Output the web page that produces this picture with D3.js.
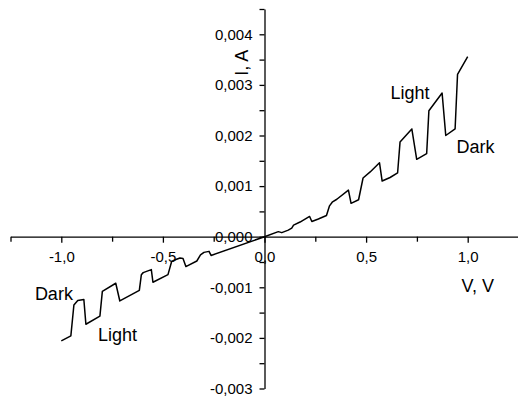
<!DOCTYPE html>
<html>
<head>
<meta charset="utf-8">
<script src="https://cdn.jsdelivr.net/npm/d3@7"></script>
<style>
  body { margin: 0; background: #fff; }
  text { font-family: "Liberation Sans", Arial, sans-serif; fill: #000; }
</style>
</head>
<body>
<svg id="chart" width="518" height="398"></svg>
<script>
// I-V curve, light / dark switching
const voltage = [-1.0, -0.953, -0.938, -0.919, -0.889, -0.879, -0.810, -0.798, -0.732, -0.712,
  -0.616, -0.606, -0.597, -0.557, -0.549, -0.475, -0.457, -0.436, -0.416, -0.401,
  -0.387, -0.333, -0.315, -0.298, -0.273, -0.263, 0.0,
  0.068, 0.085, 0.117, 0.134, 0.143, 0.175, 0.222, 0.233, 0.265, 0.305,
  0.320, 0.335, 0.356, 0.413, 0.426, 0.463, 0.485, 0.520, 0.566, 0.579,
  0.618, 0.655, 0.667, 0.725, 0.749, 0.798, 0.809, 0.874, 0.892, 0.938,
  0.950, 1.0];
const current = [-0.00206, -0.00196, -0.00135, -0.00126, -0.00124, -0.00173, -0.00157, -0.00108, -0.00092, -0.00127,
  -0.00106, -0.00075, -0.00071, -0.00065, -0.00090, -0.00075, -0.00049, -0.00045, -0.00042, -0.00043,
  -0.00059, -0.00048, -0.00036, -0.00031, -0.00029, -0.00037, 0.0,
  0.00010, 0.00008, 0.00013, 0.00017, 0.00023, 0.00029, 0.00040, 0.00030, 0.00035, 0.00042,
  0.00061, 0.00069, 0.00074, 0.00092, 0.00066, 0.00073, 0.00116, 0.00128, 0.00146, 0.00110,
  0.00117, 0.00126, 0.00187, 0.00213, 0.00153, 0.00164, 0.00249, 0.00284, 0.00200, 0.00213,
  0.00321, 0.00356];

const xMajor = [-1.0, -0.5, 0.0, 0.5, 1.0];
const xMinor = [-1.25, -0.75, -0.25, 0.25, 0.75, 1.25];
const yMajor = [-0.003, -0.002, -0.001, 0.0, 0.001, 0.002, 0.003, 0.004];
const yMinor = [-0.0025, -0.0015, -0.0005, 0.0005, 0.0015, 0.0025, 0.0035, 0.0045];

const notes = ["Dark", "Light", "Light", "Dark"];
const noteV = [-1.13, -0.82, 0.62, 0.945];
const noteI = [-0.00125, -0.00207, 0.00273, 0.00166];

const xTitle = "V, V";
const yTitle = "I, A";

const svg = d3.select("#chart");

const x = d3.scaleLinear().domain([-1.25, 1.25]).range([10.5, 518.5]);
const y = d3.scaleLinear().domain([-0.003, 0.0045]).range([388.5, 9]);

// comma decimals, plain hyphen for minus
const comma = f => v => d3.format(f)(v).replace("\u2212", "-").replace(".", ",");

// X axis through I = 0
svg.append("g").attr("class", "xAxis")
  .attr("transform", "translate(0," + y(0) + ")")
  .call(d3.axisBottom(x).tickValues(xMajor).tickSize(6).tickSizeOuter(0).tickPadding(9)
    .tickFormat(comma(".1f")));
svg.append("g").attr("class", "xMinor")
  .attr("transform", "translate(0," + y(0) + ")")
  .call(d3.axisBottom(x).tickValues(xMinor).tickSize(5).tickFormat(""))
  .select(".domain").remove();

// Y axis through V = 0
svg.append("g").attr("class", "yAxis")
  .attr("transform", "translate(" + x(0) + ",0)")
  .call(d3.axisLeft(y).tickValues(yMajor).tickSize(5).tickSizeOuter(0).tickPadding(7)
    .tickFormat(comma(".3f")));
svg.append("g").attr("class", "yMinor")
  .attr("transform", "translate(" + x(0) + ",0)")
  .call(d3.axisLeft(y).tickValues(yMinor).tickSize(5).tickFormat(""))
  .select(".domain").remove();

svg.selectAll(".xAxis text, .yAxis text")
  .style("font-size", "15px")
  .style("font-family", "'Liberation Sans', Arial, sans-serif");
svg.selectAll(".domain, .tick line")
  .attr("stroke", "#000")
  .attr("stroke-width", 1.3);

// curve
const pts = voltage.map((v, i) => [v, current[i]]);
svg.append("path")
  .datum(pts)
  .attr("fill", "none")
  .attr("stroke", "#000")
  .attr("stroke-width", 1.5)
  .attr("stroke-linejoin", "round")
  .attr("d", d3.line().x(d => x(d[0])).y(d => y(d[1])));

// Light / Dark notes
svg.selectAll("text.note")
  .data(notes)
  .enter()
  .append("text")
  .attr("class", "note")
  .attr("x", (d, i) => x(noteV[i]))
  .attr("y", (d, i) => y(noteI[i]))
  .style("font-size", "18px")
  .text(d => d);

// axis titles
svg.append("text")
  .attr("x", x(0.97))
  .attr("y", y(-0.0011))
  .style("font-size", "18px")
  .text(xTitle);

svg.append("text")
  .attr("transform", "translate(" + (x(0) - 17) + "," + y(0.00318) + ") rotate(-90)")
  .style("font-size", "18px")
  .text(yTitle);
</script>
</body>
</html>
